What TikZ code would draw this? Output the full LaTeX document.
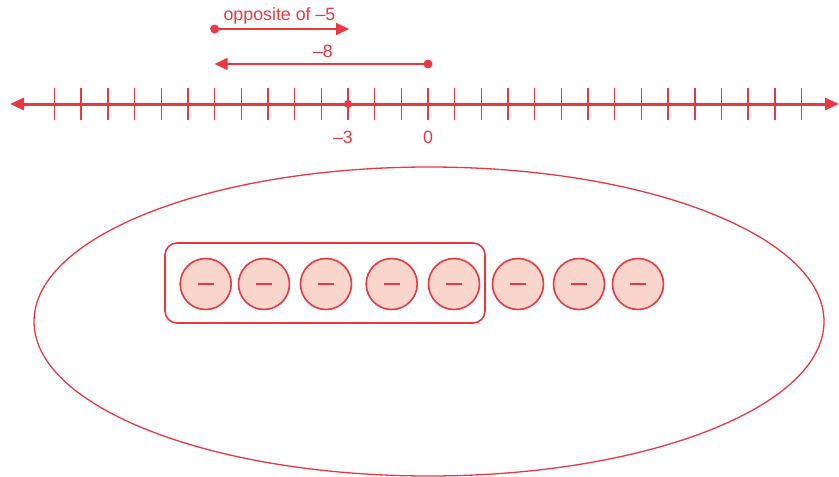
\documentclass[tikz,border=0pt]{standalone}
\usepackage{fontspec}
\setmainfont{Liberation Sans}
\usetikzlibrary{arrows.meta}
\definecolor{nred}{RGB}{235,55,65}
\definecolor{npink}{RGB}{250,213,203}
\begin{document}
\begin{tikzpicture}[x=1pt,y=-1pt,
  axisline/.style={draw=nred,line width=3pt},
  tickmark/.style={draw=nred,line width=1.6pt},
  jump/.style={draw=nred,line width=1.8pt},
  tip/.style={-{Triangle[length=13pt,width=12pt]}},
  lab/.style={text=nred,font=\fontsize{17.8}{20}\selectfont,inner sep=0pt},
  dotpt/.style={circle,fill=nred,inner sep=0pt,minimum size=9pt},
  counter/.style={circle,draw=nred,fill=npink,line width=1.6pt,minimum size=51pt,inner sep=0pt},
  mbar/.style={draw=nred,line width=1.2pt}]
\useasboundingbox (0,0) rectangle (839,477);
% number line
\coordinate (L) at (10,104);
\coordinate (R) at (839,104);
\draw[axisline,{Triangle[length=14pt,width=12pt]}-{Triangle[length=14pt,width=12pt]}] (L) -- (R);
\foreach \i in {-14,...,14}{
  \draw[tickmark] ({428+26.67*\i},88) -- ({428+26.67*\i},120);
}
\node[dotpt,minimum size=8pt] (m3) at ({428-3*26.67},104) {};
\node[lab] (lm3) at (343,137) {–3};
\node[lab] (l0) at (428,137) {0};
% jumps
\node[dotpt] (d0) at (428,64) {};
\coordinate (e8) at ({428-8*26.67},64);
\draw[jump,tip] (d0.center) -- (e8);
\node[lab] (l8) at (323,51) {–8};
\node[dotpt] (d8) at ({428-8*26.67},29) {};
\coordinate (e3) at (349,29);
\draw[jump,tip] (d8.center) -- (e3);
\node[lab] (lo) at (279.5,16) {opposite of –5};
% ellipse
\draw[nred,line width=1.3pt] (429,321.5) ellipse [x radius=395,y radius=154.5];
% group box
\draw[nred,line width=1.6pt,rounded corners=12pt] (165,243) rectangle (485,323);
% counters
\foreach \n/\x in {1/205.7,2/264,3/326,4/391.7,5/454,6/518,7/579,8/638}{
  \node[counter] (c\n) at (\x,284) {};
  \draw[mbar] ([xshift=-8pt]c\n.center) -- ([xshift=8pt]c\n.center);
}
\end{tikzpicture}
\end{document}
